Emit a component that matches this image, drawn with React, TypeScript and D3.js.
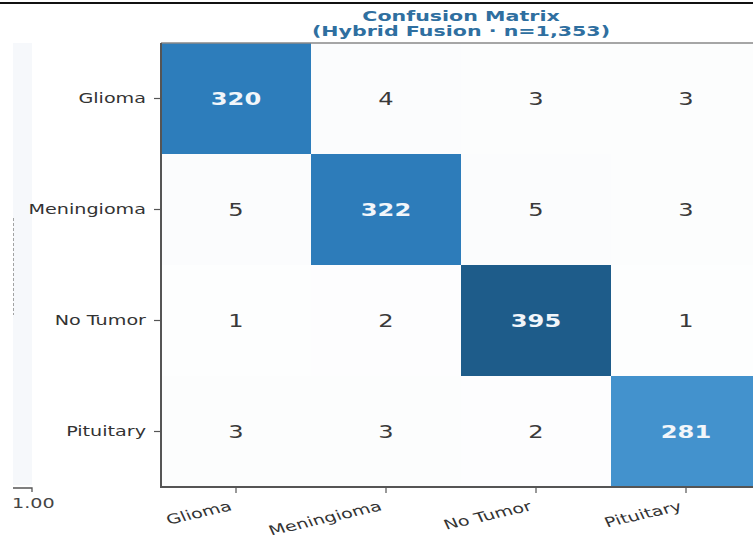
import React from "react";
import * as d3 from "d3";

// Class labels (rows = true class, columns = predicted class)
const classes: string[] = ["Glioma", "Meningioma", "No Tumor", "Pituitary"];

// Confusion-matrix counts, one array per true class
const gliomaRow: number[] = [320, 4, 3, 3];
const meningiomaRow: number[] = [5, 322, 5, 3];
const noTumorRow: number[] = [1, 2, 395, 1];
const pituitaryRow: number[] = [3, 3, 2, 281];

const titleLines: string[] = ["Confusion Matrix", "(Hybrid Fusion · n=1,353)"];
const colorbarTickLabel = "1.00";

const W = 753;
const H = 539;
const SX = 1.42; // horizontal stretch applied to text glyphs
const FONT = "'DejaVu Sans', Verdana, sans-serif";

export default function App() {
  const matrix = [gliomaRow, meningiomaRow, noTumorRow, pituitaryRow];

  const x = d3.scaleBand<string>().domain(classes).range([161, 761]);
  const y = d3.scaleBand<string>().domain(classes).range([43, 487]);
  const maxV = d3.max(matrix.flat()) as number;
  const color = d3
    .scaleLinear<string>()
    .domain([0, 281, 320, maxV])
    .range(["#fefefe", "#4392cd", "#2d7dbb", "#1e5c8a"])
    .clamp(true);

  const cells = matrix.flatMap((row, i) =>
    row.map((v, j) => ({ r: classes[i], c: classes[j], v, diag: i === j }))
  );

  const left = x.range()[0];
  const top = y.range()[0];
  const bottom = y.range()[1];
  const bw = x.bandwidth();
  const bh = y.bandwidth();

  return (
    <svg
      width={W}
      height={H}
      style={{ position: "absolute", left: 0, top: 0, background: "#ffffff" }}
      fontFamily={FONT}
    >
      {/* top border rule */}
      <line x1={0} x2={W} y1={3} y2={3} stroke="#111" strokeWidth={2} />

      {/* faint colorbar strip at the far left */}
      <rect x={13} y={top} width={19} height={bottom - top - 2} fill="#f6f8fb" />
      <line x1={13.5} x2={13.5} y1={218} y2={315} stroke="#999" strokeWidth={0.9} strokeDasharray="3,2" />
      <path d={`M13,${bottom + 1}H32V${bottom + 5}`} fill="none" stroke="#555" strokeWidth={1.3} />
      <text
        transform={`translate(12,${bottom + 21}) scale(${SX},1)`}
        fontSize={13.5}
        fill="#444"
      >
        {colorbarTickLabel}
      </text>

      {/* heatmap cells */}
      {cells.map((d, k) => (
        <rect
          key={k}
          x={x(d.c)}
          y={y(d.r)}
          width={bw}
          height={bh}
          fill={color(d.v)}
        />
      ))}

      {/* cell annotations */}
      {cells.map((d, k) => (
        <text
          key={"t" + k}
          transform={`translate(${(x(d.c) as number) + bw / 2},${(y(d.r) as number) + bh / 2}) scale(${SX},1)`}
          textAnchor="middle"
          dy="0.36em"
          fontSize={17}
          fontWeight={d.diag ? "bold" : "normal"}
          fill={d.diag ? "#f2f6fa" : "#3a3a3a"}
        >
          {d.v}
        </text>
      ))}

      {/* frame */}
      <line x1={left} x2={W} y1={top} y2={top} stroke="#888" strokeWidth={1.3} />
      <line x1={left} x2={left} y1={top} y2={bottom + 1} stroke="#555" strokeWidth={2} />
      <line x1={left - 1} x2={W} y1={bottom} y2={bottom} stroke="#555" strokeWidth={2} />

      {/* y axis ticks and labels */}
      {classes.map((c) => {
        const cy = (y(c) as number) + bh / 2;
        return (
          <g key={"y" + c}>
            <line x1={left - 7} x2={left} y1={cy} y2={cy} stroke="#555" strokeWidth={1.2} />
            <text
              transform={`translate(${left - 15},${cy}) scale(${SX},1)`}
              textAnchor="end"
              dy="0.35em"
              fontSize={13.5}
              fill="#333"
            >
              {c}
            </text>
          </g>
        );
      })}

      {/* x axis ticks and labels */}
      {classes.map((c) => {
        const cx = (x(c) as number) + bw / 2;
        return (
          <g key={"x" + c}>
            <line x1={cx} x2={cx} y1={bottom} y2={bottom + 6} stroke="#555" strokeWidth={1.2} />
            <text
              transform={`translate(${cx - 3},${bottom + 23}) scale(${SX},1) rotate(-18)`}
              textAnchor="end"
              fontSize={13.5}
              fill="#333"
            >
              {c}
            </text>
          </g>
        );
      })}

      {/* title */}
      {titleLines.map((t, i) => (
        <text
          key={"title" + i}
          transform={`translate(${(left + 761) / 2},${20.5 + i * 15.5}) scale(${SX},1)`}
          textAnchor="middle"
          fontSize={14.5}
          fontWeight="bold"
          fill="#2f6fa0"
        >
          {t}
        </text>
      ))}
    </svg>
  );
}
